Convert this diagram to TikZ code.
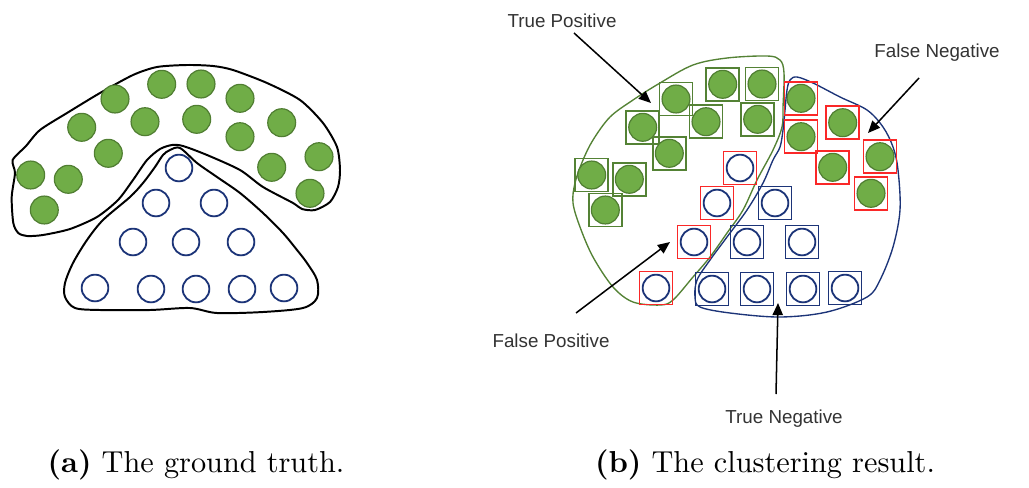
\documentclass[tikz,border=0pt]{standalone}
\usepackage{fontspec}
\usepackage{tikz}
\usetikzlibrary{arrows.meta}
\newfontfamily\lblfont{Liberation Sans}
\definecolor{dotgreen}{HTML}{70AD47}
\definecolor{dotedge}{HTML}{507E32}
\definecolor{boxgreen}{HTML}{548235}
\definecolor{navy}{RGB}{28,52,120}
\definecolor{fpred}{RGB}{250,40,40}
%% dot positions of the left panel (pixels)
\newcommand{\tpdots}{30.7/175,68.3/179.3,44.3/210,81.7/127.3,108.3/153.3,115/99,145/121.7,161.7/84.3,201/84,196.7/119.3}
\newcommand{\fndots}{240/98.3,240/136.7,281.7/122.7,271.7/167.3,319/156.7,310/193.3}
\newcommand{\fpdots}{179/168,156/203,133/242,95/288}
\newcommand{\tndots}{214/203,186/242,241/242,151/289,196/289,242/289,284/288}

\begin{document}
\begin{tikzpicture}[x=0.33pt,y=-0.33pt,
  gdot/.style={circle,draw=dotedge,fill=dotgreen,line width=0.4pt,minimum size=9.2pt,inner sep=0pt},
  bdot/.style={circle,draw=navy,line width=0.6pt,minimum size=8.8pt,inner sep=0pt},
  sqbox/.style={draw,line width=0.55pt,minimum size=10.9pt,inner sep=0pt},
  hull/.style={line width=0.45pt},
  lbl/.style={font=\lblfont\fontsize{6.2}{7}\selectfont,text=black!80},
  arr/.style={-{Triangle[length=4pt,width=3.4pt]},line width=0.5pt},
  captxt/.style={font=\normalsize}]
  \useasboundingbox (0,0) rectangle (1029,487);
  %% (a) ground truth
  \draw[black,line width=0.65pt] plot[smooth cycle,tension=0.45] coordinates{
    (12.7,160) (15,173) (11.7,197) (13.3,223) (18.3,233) (27,236) (43,235) (70,229)
    (97,217) (118,200) (133,180) (147,160) (160,149) (172,145) (183,146) (207,155)
    (240,170) (263,187) (293,203) (302,209) (315,210) (330,202) (338,187) (340,170)
    (337,147) (323,123) (300,100) (267,83) (233,70) (213,66) (187,65) (157,67)
    (133,75) (100,93) (67,113) (40,130) (26,146)};
  \draw[black,line width=0.65pt] plot[smooth cycle,tension=0.5] coordinates{
    (180,148) (197,163) (217,177) (240,193) (263,213) (283,233) (297,250) (307,263)
    (317,280) (317,298) (303,308) (263,312) (217,313) (190,308) (150,310) (100,310)
    (75,308) (65,297) (65,283) (73,263) (87,240) (103,220) (130,197) (143,183)
    (155,167) (163,155) (170,150)};
  \foreach \x/\y [count=\i] in \tpdots {\node[gdot] (ga\i) at (\x,\y) {};}
  \foreach \x/\y [count=\i] in \fndots {\node[gdot] (gb\i) at (\x,\y) {};}
  \foreach \x/\y [count=\i] in \fpdots {\node[bdot] (ba\i) at (\x,\y) {};}
  \foreach \x/\y [count=\i] in \tndots {\node[bdot] (bb\i) at (\x,\y) {};}
  %% (b) clustering result
  \draw[hull,draw=boxgreen] plot[smooth cycle,tension=0.55] coordinates{
    (573,203) (575,183) (583,160) (593,140) (610,117) (633,100) (660,83) (693,65)
    (727,58) (767,56) (780,60) (784,73) (783,107) (782,127) (773,150) (757,180)
    (743,210) (727,233) (710,257) (693,277) (673,300) (660,305) (633,302) (613,287)
    (593,257) (580,227)};
  \draw[hull,draw=navy] plot[smooth cycle,tension=0.55] coordinates{
    (790,80) (797,77) (813,83) (840,97) (867,110) (883,127) (893,147) (898,170)
    (900,210) (893,247) (880,280) (867,297) (827,312) (780,317) (730,313) (700,307)
    (695,297) (697,280) (710,260) (727,237) (747,210) (763,183) (773,160) (780,147)
    (783,130) (785,110) (787,90)};
  \foreach \x/\y [count=\i] in \tpdots {
    \node[sqbox,draw=boxgreen] (tp\i) at (\x+561,\y) {};
    \node[gdot] (tpd\i) at (tp\i) {};}
  \foreach \x/\y [count=\i] in \fndots {
    \node[sqbox,draw=fpred] (fn\i) at (\x+561,\y) {};
    \node[gdot] (fnd\i) at (fn\i) {};}
  \foreach \x/\y [count=\i] in \fpdots {
    \node[sqbox,draw=fpred] (fp\i) at (\x+561,\y) {};
    \node[bdot] (fpd\i) at (fp\i) {};}
  \foreach \x/\y [count=\i] in \tndots {
    \node[sqbox,draw=navy] (tn\i) at (\x+561,\y) {};
    \node[bdot] (tnd\i) at (tn\i) {};}
  %% labels and arrows
  \node[lbl] (tplbl) at (562,21) {True Positive};
  \node[lbl] (fnlbl) at (937,53) {False Negative};
  \node[lbl] (fplbl) at (551,341) {False Positive};
  \node[lbl] (tnlbl) at (784,419) {True Negative};
  \coordinate (tpa) at (574,33); \coordinate (tpb) at (651,103);
  \coordinate (fna) at (919,78); \coordinate (fnb) at (868,133);
  \coordinate (fpa) at (576,313); \coordinate (fpb) at (670,242);
  \coordinate (tna) at (776,394); \coordinate (tnb) at (778,303);
  \draw[arr](tpa)--(tpb);\draw[arr](fna)--(fnb);
  \draw[arr](fpa)--(fpb);\draw[arr](tna)--(tnb);
  %% captions
  \node[captxt] (capa) at (196,465) {\textbf{(a)} The ground truth.};
  \node[captxt] (capb) at (765,465) {\textbf{(b)} The clustering result.};
\end{tikzpicture}
\end{document}
